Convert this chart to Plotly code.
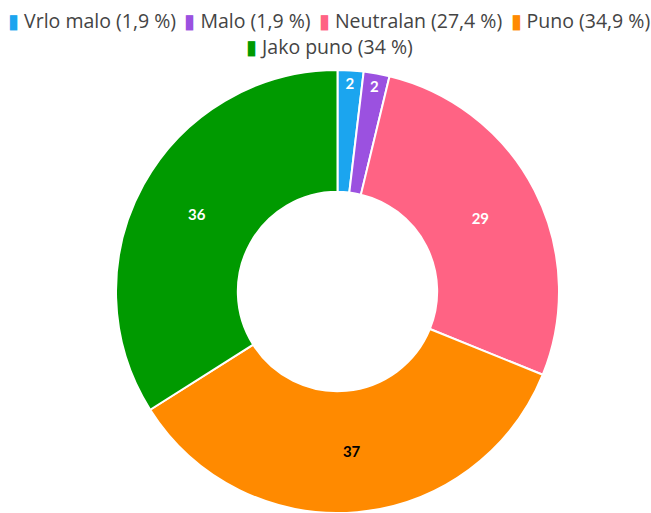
import plotly.graph_objects as go

# Survey answers and their counts
categories = ["Vrlo malo", "Malo", "Neutralan", "Puno", "Jako puno"]
counts = [2, 2, 29, 37, 36]
slice_colors = ["#1ba5ef", "#9b51e0", "#ff6384", "#ff8a00", "#009a00"]
label_colors = ["white", "white", "white", "black", "white"]
# which legend row each entry goes on
legend_rows = [0, 0, 0, 0, 1]

total = sum(counts)


def fmt_pct(v):
    p = round(v / total * 100, 1)
    s = f"{p:.1f}".rstrip("0").rstrip(".")
    return s.replace(".", ",")


legend_names = [f"{c} ({fmt_pct(v)} %)" for c, v in zip(categories, counts)]

fig = go.Figure(
    go.Pie(
        labels=categories,
        values=counts,
        sort=False,
        direction="clockwise",
        rotation=0,
        hole=0.45,
        marker=dict(colors=slice_colors, line=dict(color="white", width=2)),
        texttemplate="<b>%{value}</b>",
        textposition="inside",
        insidetextorientation="horizontal",
        textfont=dict(color=label_colors, size=15, family="Lato"),
        hovertext=legend_names,
        hoverinfo="text",
        showlegend=False,
    )
)

# Legend rows built as rich-text annotations so they flow like a centred list
row_y = [1.111, 1.052]
for r, y in enumerate(row_y):
    items = []
    for name, col, row in zip(legend_names, slice_colors, legend_rows):
        if row != r:
            continue
        items.append(
            f'<span style="color:{col};font-size:20px">▮</span> {name}'
        )
    fig.add_annotation(
        text=" \u2009".join(items),
        xref="paper",
        yref="paper",
        x=0.487,
        y=y,
        xanchor="center",
        yanchor="middle",
        showarrow=False,
        borderpad=0,
        font=dict(family="Open Sans", size=19.5, color="#444444"),
    )

fig.update_layout(
    width=651,
    height=513,
    margin=dict(l=24, r=0, t=70, b=0),
    paper_bgcolor="white",
    plot_bgcolor="white",
    font=dict(family="Open Sans", color="#444444"),
    showlegend=False,
)

fig.write_html("out.html")
